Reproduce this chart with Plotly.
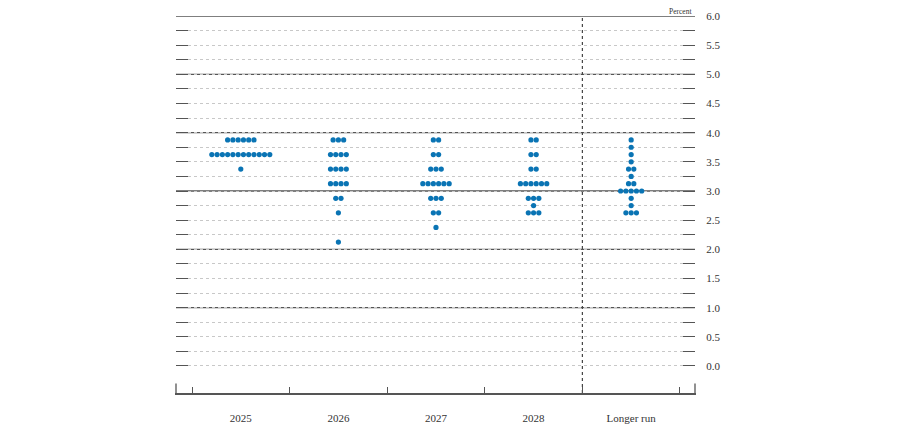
import plotly.graph_objects as go

categories = ["2025", "2026", "2027", "2028", "Longer run"]
# (rate level, number of participants) per category
dots_2025 = [(3.875, 6), (3.625, 12), (3.375, 1)]
dots_2026 = [(3.875, 3), (3.625, 4), (3.375, 4), (3.125, 4), (2.875, 2), (2.625, 1), (2.125, 1)]
dots_2027 = [(3.875, 2), (3.625, 2), (3.375, 3), (3.125, 6), (2.875, 3), (2.625, 2), (2.375, 1)]
dots_2028 = [(3.875, 2), (3.625, 2), (3.375, 2), (3.125, 6), (2.875, 3), (2.75, 1), (2.625, 3)]
dots_longer = [(3.875, 1), (3.75, 1), (3.625, 1), (3.5, 1), (3.375, 2), (3.25, 1), (3.125, 2),
               (3.0, 5), (2.875, 1), (2.75, 1), (2.625, 3)]
all_dots = [dots_2025, dots_2026, dots_2027, dots_2028, dots_longer]

y_tick_vals = [0.0, 0.5, 1.0, 1.5, 2.0, 2.5, 3.0, 3.5, 4.0, 4.5, 5.0, 5.5, 6.0]
y_tick_text = ["0.0", "0.5", "1.0", "1.5", "2.0", "2.5", "3.0", "3.5", "4.0", "4.5", "5.0", "5.5", "6.0"]
solid_levels = [1.0, 2.0, 3.0, 4.0, 5.0, 6.0]

DOT_STEP = 0.054
DOT_COLOR = "#0a74b4"
LINE_COLOR = "#555555"
GRID_COLOR = "#c8c8c8"
FONT = "Liberation Serif"

xs, ys = [], []
for ci, group in enumerate(all_dots):
    for level, n in group:
        for i in range(n):
            xs.append(ci + (i - (n - 1) / 2) * DOT_STEP)
            ys.append(level)

# quarter-point grid levels between the lowest and highest labelled tick
quarter_levels = [y_tick_vals[0] + 0.25 * k
                  for k in range(int(round((y_tick_vals[-1] - y_tick_vals[0]) / 0.25)) + 1)]

fig = go.Figure()
fig.add_trace(go.Scatter(x=xs, y=ys, mode="markers",
                         marker=dict(size=5.2, color=DOT_COLOR, line=dict(width=0)),
                         hoverinfo="y", showlegend=False))

n = len(categories)
for lv in solid_levels:
    fig.add_hline(y=lv, line=dict(color=LINE_COLOR, width=1.3), layer="below")

# vertical dotted separator between projections and longer run
fig.add_vline(x=n - 1.5, line=dict(color="#444444", width=1.2, dash="dot"), layer="below")

# end marks on the baseline
for xd in (0, 1):
    fig.add_shape(type="line", xref="x domain", yref="y domain", x0=xd, x1=xd, y0=0, y1=0.025,
                  line=dict(color=LINE_COLOR, width=1.3))

fig.add_annotation(text="Percent", xref="x domain", yref="y", x=0.997, y=y_tick_vals[-1],
                   xanchor="right", yanchor="bottom", showarrow=False, yshift=-1, borderpad=0,
                   font=dict(family=FONT, size=7.5, color="#333333"))

fig.update_layout(
    width=884, height=422,
    margin=dict(l=168, r=197, t=8, b=37),
    paper_bgcolor="white", plot_bgcolor="white",
    font=dict(family=FONT, size=11, color="#333333"),
    xaxis=dict(range=[-0.664, n - 0.5 + 0.154], tickvals=list(range(n)), ticktext=categories,
               ticks="", showgrid=False, zeroline=False, automargin=False,
               showline=True, linecolor=LINE_COLOR, linewidth=2,
               minor=dict(tickmode="linear", tick0=-0.5, dtick=1, ticks="inside",
                          ticklen=6, tickcolor=LINE_COLOR, tickwidth=1.3, showgrid=False),
               tickfont=dict(family=FONT, size=11, color="#333333"), ticklabelstandoff=14,
               fixedrange=True),
    yaxis=dict(range=[-0.463, 6.0], side="right", tickvals=y_tick_vals, ticktext=y_tick_text,
               ticks="inside", ticklen=12, tickcolor=LINE_COLOR, tickwidth=1.3, automargin=False,
               showline=True, linecolor="rgba(0,0,0,0)", mirror="allticks",
               showgrid=True, gridcolor=GRID_COLOR, griddash="dot", gridwidth=1,
               minor=dict(tickmode="array", tickvals=quarter_levels, ticks="inside", ticklen=12,
                          tickcolor=LINE_COLOR, tickwidth=1.3,
                          showgrid=True, gridcolor=GRID_COLOR, griddash="dot", gridwidth=1),
               zeroline=False, tickfont=dict(family=FONT, size=11, color="#333333"),
               ticklabelstandoff=8, fixedrange=True),
)

fig.write_html("out.html")
